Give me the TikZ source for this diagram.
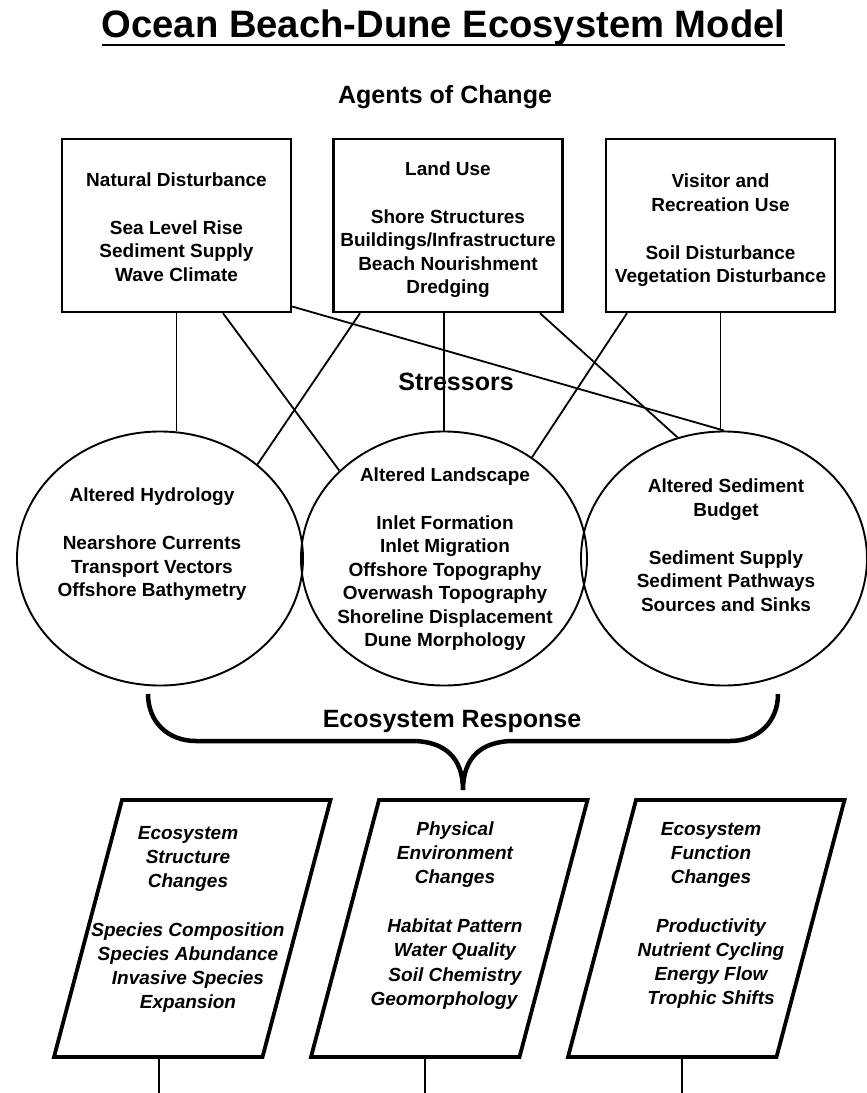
\documentclass[tikz,border=0pt]{standalone}
\usepackage{fontspec}
\setmainfont{Liberation Sans}
\usetikzlibrary{shapes.geometric}
\tikzstyle{agent}=[draw, line width=2.4pt, minimum width=229pt, minimum height=173pt, inner sep=0]
\tikzstyle{stress}=[draw, ellipse, line width=1.9pt, minimum width=286pt, minimum height=254pt, inner sep=0]
\tikzstyle{resp}=[draw, line width=3.8pt]
\tikzstyle{txt}=[align=center, inner sep=0, font=\fontsize{19}{23.5}\selectfont\bfseries]
\tikzstyle{itxt}=[align=center, inner sep=0, font=\fontsize{19}{24.2}\selectfont\bfseries\itshape]
\tikzstyle{head}=[anchor=base, inner sep=0, font=\fontsize{25}{30}\selectfont\bfseries]
\tikzstyle{ln}=[line width=1.8pt]

\begin{document}
\begin{tikzpicture}[x=1pt, y=-1pt]
\useasboundingbox (0,0) rectangle (867,1093);
\node[anchor=base, inner sep=0, font=\fontsize{38.2}{40}\selectfont\bfseries] (title) at (443.5,37) {Ocean Beach-Dune Ecosystem Model};
\draw[line width=2.6pt] ([yshift=-8pt]title.base west) -- ([yshift=-8pt]title.base east);
\node[head] (agents) at (445,103) {Agents of Change};
\node[head] (stressors) at (456,390) {Stressors};
\node[head] (response) at (452,727) {Ecosystem Response};

\node[agent] (A1) at (176.5,225.5) {};
\node[agent] (A2) at (448,225.5) {};
\node[agent] (A3) at (720.5,225.5) {};
\node[txt] (A1t) at (176.5,227) {Natural Disturbance\\[24pt]Sea Level Rise\\Sediment Supply\\Wave Climate};
\node[txt] (A2t) at (448,229.5) {Land Use\\[24.5pt]Shore Structures\\Buildings/Infrastructure\\Beach Nourishment\\Dredging};
\node[txt] (A3t) at (720.5,230.5) {Visitor and\\Recreation Use\\[24.5pt]Soil Disturbance\\Vegetation Disturbance};

\node[stress] (S1) at (160,558.5) {};
\node[stress] (S2) at (444,558.5) {};
\node[stress] (S3) at (724,558.5) {};
\node[txt] (S1t) at (152,544.5) {Altered Hydrology\\[24.5pt]Nearshore Currents\\Transport Vectors\\Offshore Bathymetry};
\node[txt] (S2t) at (445,559) {Altered Landscape\\[24.5pt]Inlet Formation\\Inlet Migration\\Offshore Topography\\Overwash Topography\\Shoreline Displacement\\Dune Morphology};
\node[txt] (S3t) at (726,545) {Altered Sediment\\Budget\\[24.5pt]Sediment Supply\\Sediment Pathways\\Sources and Sinks};

\draw[ln] (A1.south) -- (A1.south |- S1.north);
\draw[ln] ([xshift=46.5pt]A1.south) -- (S2.140);
\draw[ln] (A1.-35) -- (S3.north);
\draw[ln] ([xshift=-88pt]A2.south) -- (S1.44);
\draw[ln] (S2.north |- A2.south) -- (S2.north);
\draw[ln] ([xshift=92pt]A2.south) -- (S3.111);
\draw[ln] ([xshift=-93.5pt]A3.south) -- (S2.49);
\draw[ln] (A3.south) -- (A3.south |- S3.north);

\draw[line width=4.5pt] (148,694) .. controls (148,722) and (168,741) .. (196,741) -- (412,741) .. controls (445,741) and (463,758) .. (463,790) .. controls (463,758) and (481,741) .. (514,741) -- (730,741) .. controls (758,741) and (778,722) .. (778,694);

\foreach \x/\px in {1/122,2/379,3/636}
{
\draw[resp] (\px,800) -- ++(208.5,0) -- ++(-68,257) -- ++(-208.5,0) -- cycle;
}
\node[itxt] (R1t) at (188,919.5) {Ecosystem\\Structure\\Changes\\[24.5pt]Species Composition\\Species Abundance\\Invasive Species\\Expansion};
\node[itxt] (R2t) at (455,915.5) {Physical\\Environment\\Changes\\[24.5pt]Habitat Pattern\\Water Quality\\Soil Chemistry\\Geomorphology\hspace*{22pt}};
\node[itxt] (R3t) at (711,915.5) {Ecosystem\\Function\\Changes\\[24.5pt]Productivity\\Nutrient Cycling\\Energy Flow\\Trophic Shifts};

\foreach \x/\lx in {1/159,2/425,3/682}
{
\coordinate (B\x) at (\lx,1059);
\coordinate (E\x) at (\lx,1093);
\draw[ln] (B\x) -- (E\x);
}
\end{tikzpicture}
\end{document}
